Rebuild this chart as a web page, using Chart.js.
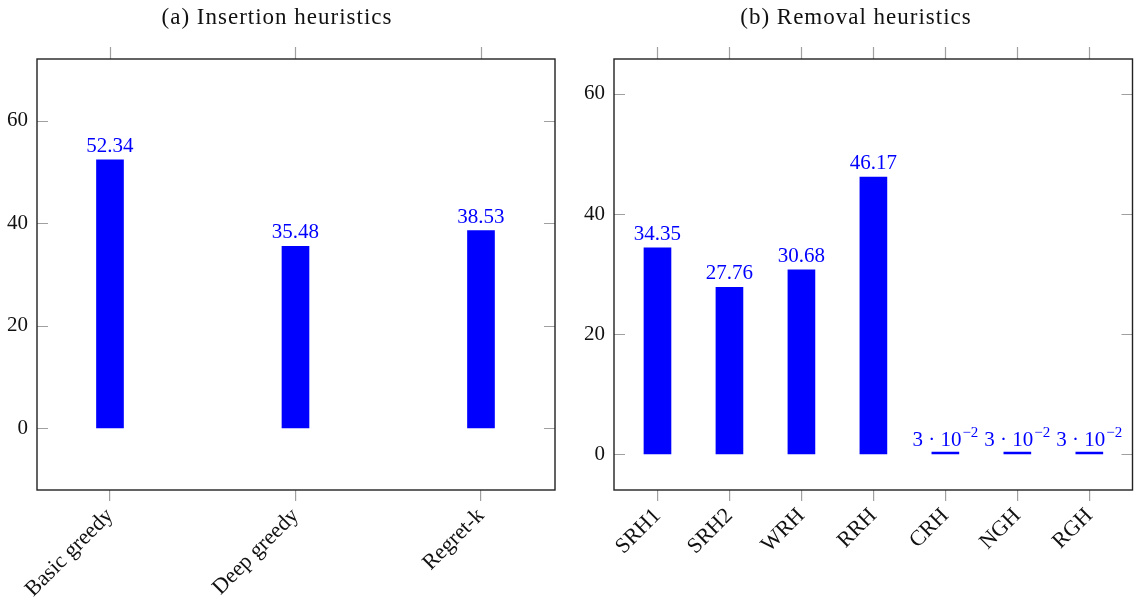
<!DOCTYPE html>
<html>
<head>
<meta charset="utf-8">
<script src="https://cdn.jsdelivr.net/npm/chart.js@4.4.1/dist/chart.umd.min.js"></script>
<style>
  html, body { margin: 0; padding: 0; background: #fff; }
  #wrap { position: relative; width: 1137px; height: 603px; overflow: hidden; }
  .panel { position: absolute; top: 0; height: 603px; }
  #leftBox { left: 0; width: 575px; }
  #rightBox { left: 575px; width: 562px; }
</style>
</head>
<body>
<div id="wrap">
  <div class="panel" id="leftBox"><canvas id="left"></canvas></div>
  <div class="panel" id="rightBox"><canvas id="right"></canvas></div>
</div>
<script>
// =======================
// DATA
// =======================
const insertionNames = ["Basic greedy", "Deep greedy", "Regret-k"];
const insertionValues = [52.34, 35.48, 38.53];

const removalNames = ["SRH1", "SRH2", "WRH", "RRH", "CRH", "NGH", "RGH"];
const removalValues = [34.35, 27.76, 30.68, 46.17, 0.03, 0.03, 0.03];

const yTicks = [0, 20, 40, 60];

const FONT = "'Liberation Serif', 'Times New Roman', serif";
const BLUE = "#0000ff";
const TICK_GRAY = "#a0a0a0";

// =======================
// HELPERS
// =======================

// pgfplots-like frame: full box, inward y ticks, top x ticks
const framePlugin = {
  id: "frame",
  afterDatasetsDraw(chart) {
    const { ctx, chartArea: a, scales } = chart;
    ctx.save();
    ctx.strokeStyle = TICK_GRAY;
    ctx.lineWidth = 1.2;
    ctx.beginPath();
    scales.y.ticks.forEach(t => {
      const py = Math.round(scales.y.getPixelForValue(t.value)) + 0.5;
      ctx.moveTo(a.left, py); ctx.lineTo(a.left + 11, py);
      ctx.moveTo(a.right, py); ctx.lineTo(a.right - 11, py);
    });
    scales.x.ticks.forEach(t => {
      const px = Math.round(scales.x.getPixelForValue(t.value)) + 0.5;
      ctx.moveTo(px, a.top); ctx.lineTo(px, a.top - 12);
    });
    ctx.stroke();

    ctx.strokeStyle = "#222";
    ctx.lineWidth = 1.4;
    ctx.strokeRect(a.left, a.top, a.right - a.left, a.bottom - a.top);
    ctx.restore();
  }
};

// value labels above bars, small numbers as m · 10^e
const valueLabelPlugin = {
  id: "valueLabels",
  afterDatasetsDraw(chart) {
    const { ctx, scales } = chart;
    const meta = chart.getDatasetMeta(0);
    const values = chart.data.datasets[0].data.map(d => d.y);
    ctx.save();
    ctx.fillStyle = BLUE;
    ctx.textBaseline = "alphabetic";
    meta.data.forEach((bar, i) => {
      const v = values[i];
      const x = bar.x;
      const y = scales.y.getPixelForValue(v) - 8;
      if (v >= 1) {
        ctx.font = "21px " + FONT;
        ctx.textAlign = "center";
        ctx.fillText(v.toFixed(2), x, y);
      } else {
        const exp = Math.floor(Math.log10(v));
        const mant = Math.round(v / Math.pow(10, exp));
        const main = mant + " \u00B7 10";
        const sup = "\u2212" + Math.abs(exp);
        ctx.font = "21px " + FONT;
        const w1 = ctx.measureText(main).width;
        ctx.font = "15px " + FONT;
        const w2 = ctx.measureText(sup).width;
        const x0 = x - (w1 + w2 + 1) / 2;
        ctx.textAlign = "left";
        ctx.font = "21px " + FONT;
        ctx.fillText(main, x0, y);
        ctx.font = "15px " + FONT;
        ctx.fillText(sup, x0 + w1 + 1, y - 9);
      }
    });
    ctx.restore();
  }
};

function makeChart(canvasId, names, values, xMin, xMax, yMin, yMax, yAxisWidth, padRight, title, titleX) {
  const titlePlugin = {
    id: "panelTitle",
    afterDraw(chart) {
      const { ctx } = chart;
      ctx.save();
      ctx.font = "23px " + FONT;
      ctx.letterSpacing = "1px";
      ctx.fillStyle = "#111";
      ctx.textAlign = "center";
      ctx.textBaseline = "alphabetic";
      ctx.fillText(title, titleX, 24);
      ctx.restore();
    }
  };

  return new Chart(document.getElementById(canvasId), {
    type: "bar",
    data: {
      datasets: [{
        data: values.map((v, i) => ({ x: i, y: v })),
        backgroundColor: BLUE,
        borderWidth: 0,
        barThickness: 27,
        minBarLength: 2
      }]
    },
    options: {
      responsive: true,
      maintainAspectRatio: false,
      animation: false,
      layout: { padding: { top: 59, right: padRight, left: 0, bottom: 0 } },
      plugins: {
        legend: { display: false },
        tooltip: { enabled: false }
      },
      scales: {
        x: {
          type: "linear",
          min: xMin,
          max: xMax,
          offset: false,
          afterBuildTicks: s => { s.ticks = names.map((n, i) => ({ value: i })); },
          afterFit: s => { s.height = 113; s.paddingLeft = 0; s.paddingRight = 0; },
          grid: {
            display: true,
            offset: false,
            drawOnChartArea: false,
            drawTicks: true,
            tickLength: 11,
            color: TICK_GRAY,
            lineWidth: 1.2
          },
          border: { display: false },
          ticks: {
            autoSkip: false,
            maxRotation: 45,
            minRotation: 45,
            padding: 2,
            color: "#111",
            font: { family: FONT, size: 22 },
            callback: v => names[v]
          }
        },
        y: {
          min: yMin,
          max: yMax,
          afterBuildTicks: s => { s.ticks = yTicks.map(v => ({ value: v })); },
          afterFit: s => { s.width = yAxisWidth; s.paddingTop = 0; s.paddingBottom = 0; },
          grid: { display: false, drawTicks: false },
          border: { display: false },
          ticks: {
            padding: 9,
            color: "#111",
            font: { family: FONT, size: 21 },
            callback: v => String(v)
          }
        }
      }
    },
    plugins: [framePlugin, valueLabelPlugin, titlePlugin]
  });
}

// =======================
// INIT
// =======================
makeChart("left", insertionNames, insertionValues, -0.3935, 2.399, -12.1, 72.04, 37, 20,
  "(a) Insertion heuristics", 277);
makeChart("right", removalNames, removalValues, -0.604, 6.6, -6.0, 65.83, 39, 4.5,
  "(b) Removal heuristics", 856 - 575);
</script>
</body>
</html>
